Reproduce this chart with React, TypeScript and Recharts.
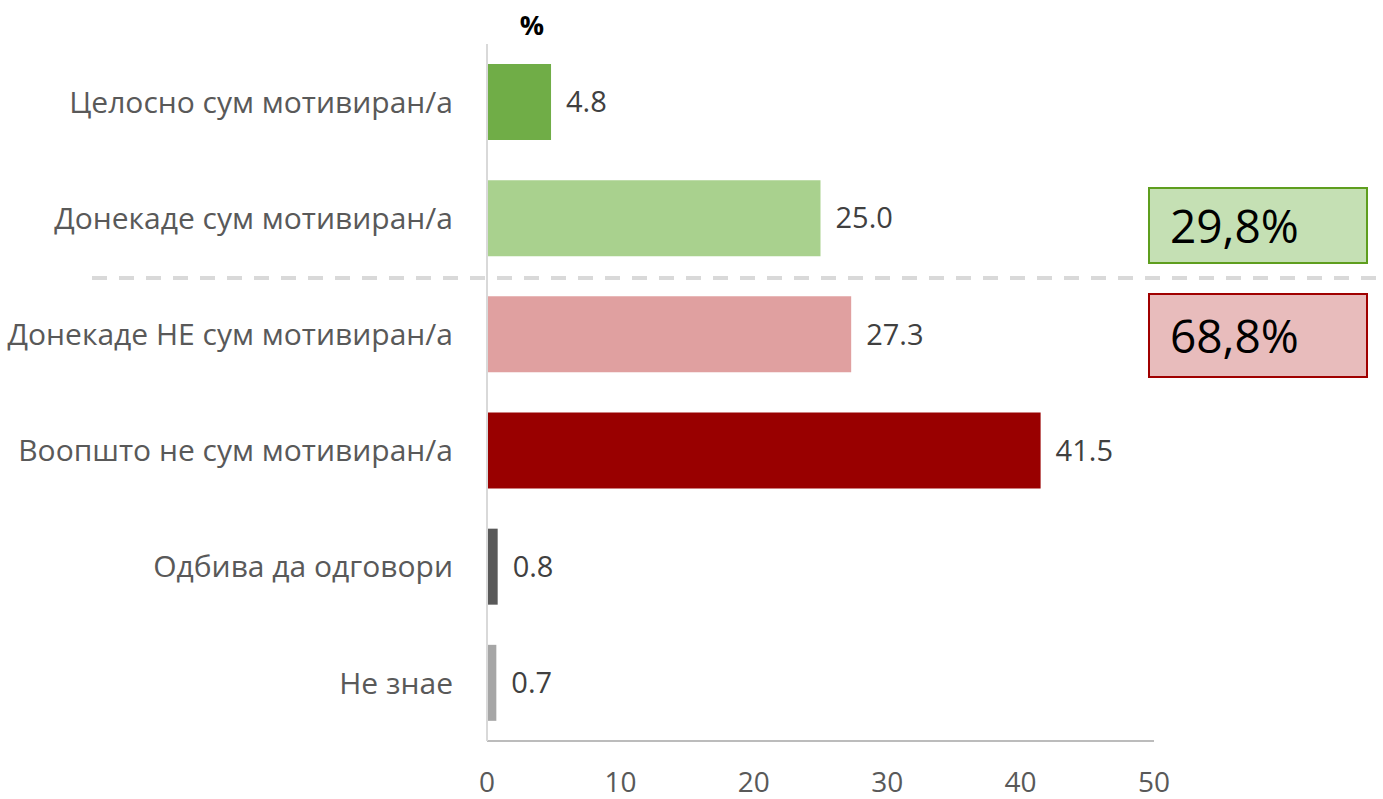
import { BarChart, Bar, XAxis, YAxis, Cell, LabelList } from "recharts";

// #region data
const categories = [
  "Целосно сум мотивиран/а",
  "Донекаде сум мотивиран/а",
  "Донекаде НЕ сум мотивиран/а",
  "Воопшто не сум мотивиран/а",
  "Одбива да одговори",
  "Не знае",
];
const values = [4.8, 25.0, 27.3, 41.5, 0.8, 0.7];
const barColors = ["#70ad47", "#a9d18e", "#e0a0a0", "#990000", "#595959", "#a6a6a6"];
const xTicks = [0, 10, 20, 30, 40, 50];
const motivatedTotal = "29,8%";
const notMotivatedTotal = "68,8%";
// #endregion

const chartData = categories.map((name, i) => ({ name, value: values[i] }));

const font = "'Open Sans', sans-serif";

const boxStyle = {
  position: "absolute" as const,
  left: 1148,
  width: 220,
  boxSizing: "border-box" as const,
  fontSize: 46,
  paddingLeft: 20,
  color: "#000",
};

const App = () => {
  return (
    <div style={{ position: "absolute", left: 0, top: 0, width: 1383, height: 799, fontFamily: font }}>
      <BarChart
        width={1383}
        height={799}
        layout='vertical'
        data={chartData}
        margin={{ top: 44, right: 229, left: 0, bottom: 0 }}
      >
        <XAxis
          type='number'
          domain={[0, 50]}
          ticks={xTicks}
          tickLine={false}
          axisLine={{ stroke: "#a6a6a6", strokeWidth: 1.5 }}
          tick={{ fontSize: 28, fill: "#595959", fontFamily: font }}
          tickMargin={25}
          height={58}
        />
        <YAxis
          type='category'
          dataKey='name'
          width={487}
          tickLine={false}
          axisLine={{ stroke: "#d9d9d9", strokeWidth: 2 }}
          tick={{ fontSize: 30, fill: "#595959", fontFamily: font }}
          tickMargin={28}
        />
        <Bar dataKey='value' barSize={76} isAnimationActive={false}>
          {chartData.map((d, i) => (
            <Cell key={d.name} fill={barColors[i]} />
          ))}
          <LabelList
            dataKey='value'
            position='right'
            offset={15}
            formatter={(v: any) => Number(v).toFixed(1)}
            style={{ fontSize: 29, fill: "#404040", fontFamily: font }}
          />
        </Bar>
      </BarChart>

      <svg width={1383} height={799} style={{ position: "absolute", left: 0, top: 0, pointerEvents: "none" }}>
        <text x={532} y={35} textAnchor='middle' fontSize={27} fontWeight='bold' fill='#000' fontFamily={font}>
          %
        </text>
        <line x1={92} y1={278} x2={1383} y2={278} stroke='#d9d9d9' strokeWidth={4} strokeDasharray='15 12' />
      </svg>

      <div
        style={{
          ...boxStyle,
          top: 187,
          height: 77,
          lineHeight: "73px",
          background: "#c5e0b4",
          border: "2px solid #5e9e1e",
        }}
      >
        {motivatedTotal}
      </div>
      <div
        style={{
          ...boxStyle,
          top: 293,
          height: 85,
          lineHeight: "81px",
          background: "#e8bcbc",
          border: "2px solid #a00000",
        }}
      >
        {notMotivatedTotal}
      </div>
    </div>
  );
};

export default App;
